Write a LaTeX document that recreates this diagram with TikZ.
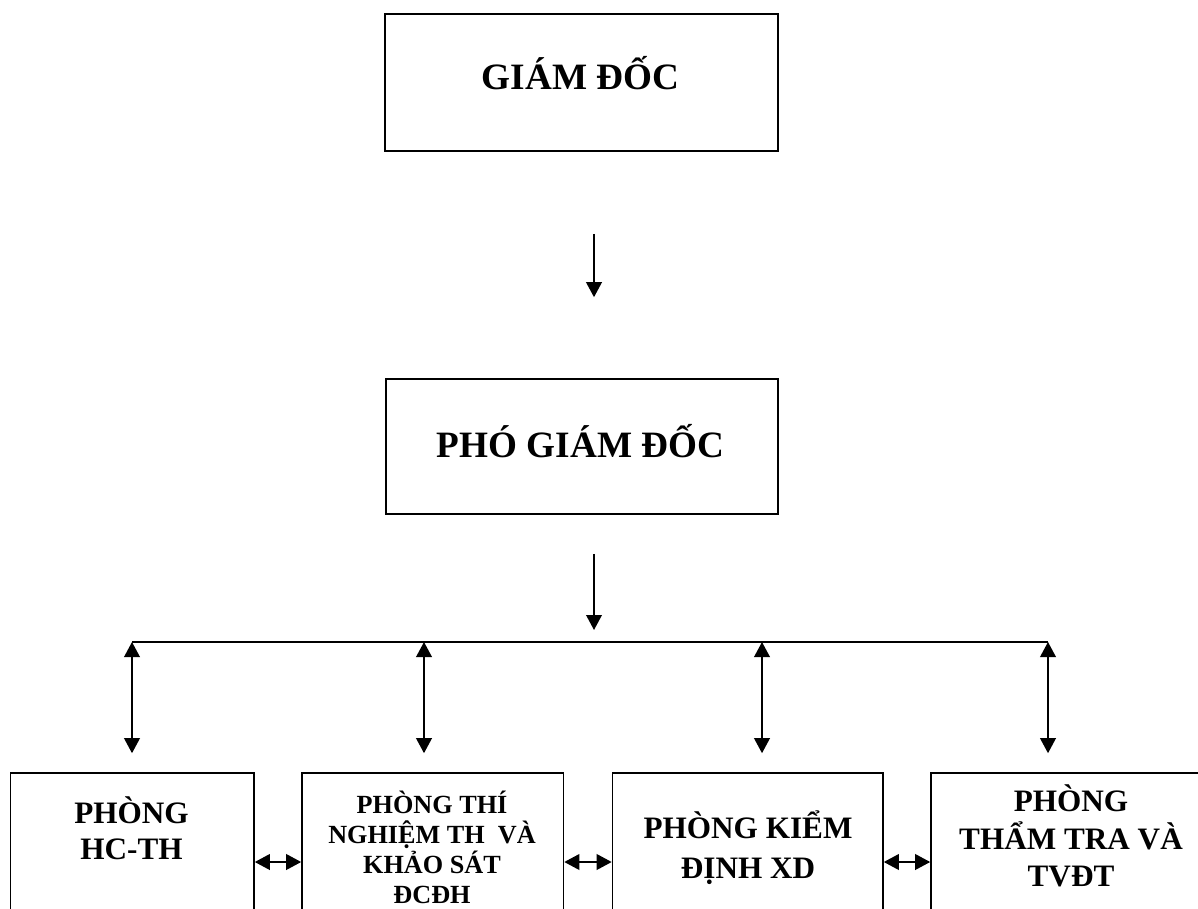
\documentclass[tikz,border=0pt]{standalone}
\usepackage{fontspec}
\setmainfont{Liberation Serif}
\usetikzlibrary{arrows.meta}

\begin{document}
\begin{tikzpicture}[
        x = 0.5pt,
        y = -0.5pt,
        box/.style={
          draw,
          line width = 0.8pt,
          inner sep = 0pt,
        },
        head/.style={
          font = \fontsize{18.6}{22}\selectfont\bfseries,
          inner sep = 0pt,
        },
        dept/.style={
          font = \fontsize{15.6}{#1}\selectfont\bfseries,
          align = center,
          inner sep = 0pt,
        },
        dept/.default = 18,
        link/.style={
          line width = 0.9pt,
          -{Triangle[length = 7.5pt, width = 7.8pt]},
        },
        both/.style={
          line width = 0.9pt,
          {Triangle[length = 7.5pt, width = 7.8pt]}-{Triangle[length = 7.5pt, width = 7.8pt]},
        },
        bus/.style={
          line width = 0.7pt,
        },
        ]
        \useasboundingbox (0,0) rectangle (1198,909);
        \clip (0,0) rectangle (1198,909);

        \node [box, minimum width = 196.5pt, minimum height = 68.5pt] (gd) at (581.5,82.5) {};
        \node [box, minimum width = 196pt, minimum height = 67.5pt] (pgd) at (582,446.5) {};
        \node [box, minimum width = 121.75pt, minimum height = 89pt] (hcth) at (132.25,862) {};
        \node [box, minimum width = 130.75pt, minimum height = 89pt] (tnks) at (432.75,862) {};
        \node [box, minimum width = 135.25pt, minimum height = 89pt] (kdxd) at (747.75,862) {};
        \node [box, minimum width = 159.5pt, minimum height = 89pt] (tttv) at (1090.5,862) {};

        \node [head] (gdtext) at (580.5,73) {GIÁM ĐỐC};
        \node [head] (pgdtext) at (580.5,441.5) {PHÓ GIÁM ĐỐC};
        \node [dept] (hcthtext) at (131.5,828) {PHÒNG\\HC-TH};
        \node [dept, font = \fontsize{13.1}{15}\selectfont\bfseries] (tnkstext) at (432,847)
          {PHÒNG THÍ\\NGHIỆM TH~ VÀ\\KHẢO SÁT\\ĐCĐH};
        \node [dept = 20] (kdxdtext) at (748,848) {PHÒNG KIỂM\\ĐỊNH XD};
        \node [dept = 18.75] (tttvtext) at (1071,836) {PHÒNG\\THẨM TRA VÀ\\TVĐT};

        \coordinate (spine) at (594,0);
        \coordinate (tap1) at (132,642);
        \coordinate (tap2) at (424,642);
        \coordinate (tap3) at (762,642);
        \coordinate (tap4) at (1048,642);

        \draw [link, shorten < = 41pt, shorten > = 40.5pt] (gd.south -| spine) -- (pgd.north -| spine);
        \draw [link, shorten < = 19.5pt, shorten > = 6pt] (pgd.south -| spine) -- (spine |- tap1);
        \draw [bus] (tap1) -- (tap4);
        \draw [both, shorten > = 9.5pt] (tap1) -- (tap1 |- hcth.north);
        \draw [both, shorten > = 9.5pt] (tap2) -- (tap2 |- tnks.north);
        \draw [both, shorten > = 9.5pt] (tap3) -- (tap3 |- kdxd.north);
        \draw [both, shorten > = 9.5pt] (tap4) -- (tap4 |- tttv.north);
        \draw [both] (hcth) -- (tnks);
        \draw [both] (tnks) -- (kdxd);
        \draw [both] (kdxd) -- (tttv);
      \end{tikzpicture}
\end{document}
